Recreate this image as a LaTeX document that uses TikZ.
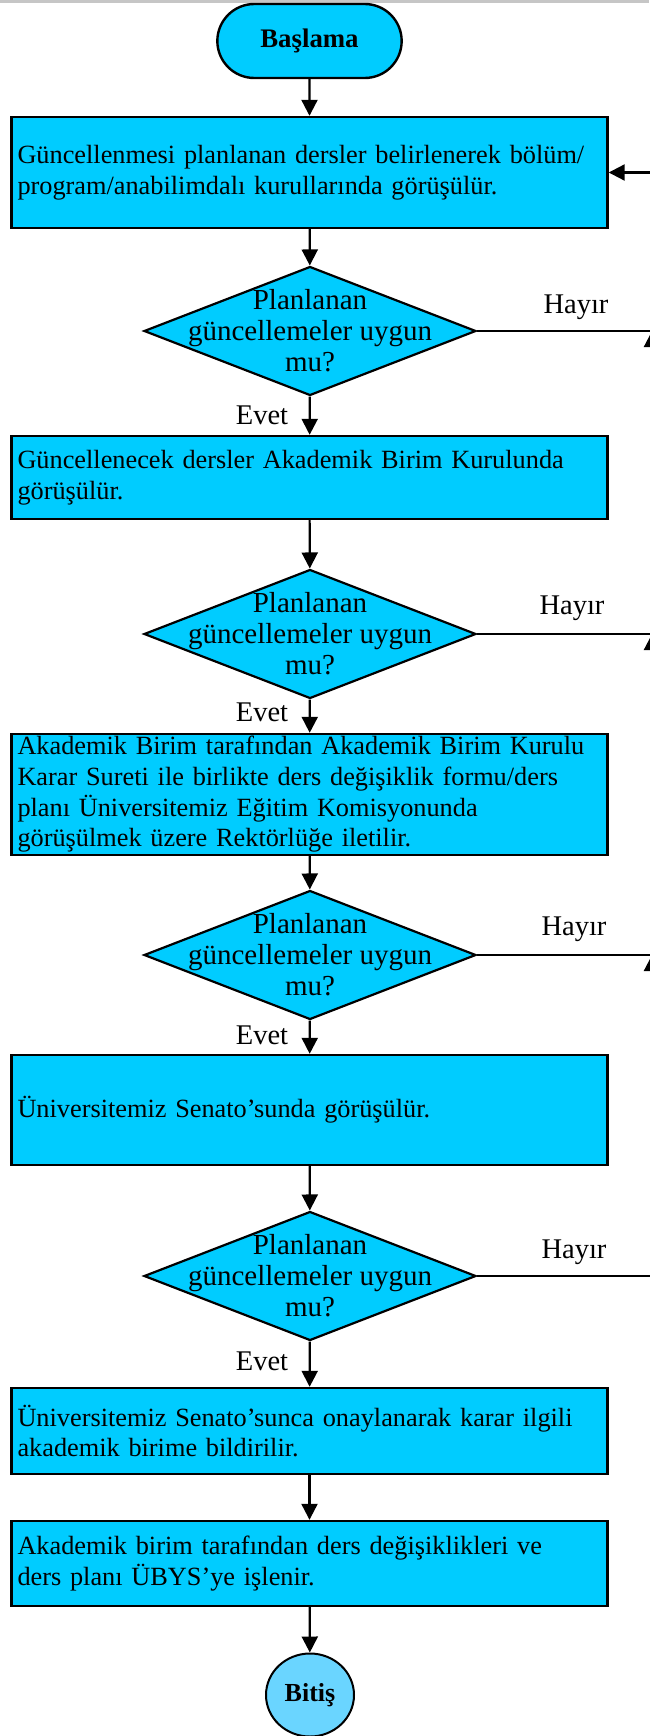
\documentclass[tikz,border=0pt]{standalone}
\usepackage{fontspec}
\setmainfont{Liberation Serif}
\usetikzlibrary{shapes.geometric,shapes.misc,arrows.meta}
\definecolor{boxfill}{HTML}{00CCFF}
\definecolor{endfill}{HTML}{6AD5FF}
\begin{document}
\begin{tikzpicture}[x=1pt,y=-1pt,
  procbox/.style={rectangle,draw=black,fill=boxfill,line width=2.4pt,
    minimum width=596pt,text width=584pt,inner xsep=6pt,inner ysep=0pt,align=left,
    font=\fontsize{26.3pt}{30.7pt}\selectfont},
  decbox/.style={diamond,draw=black,fill=boxfill,line width=2.2pt,
    minimum width=332pt,minimum height=129pt,inner sep=0pt},
  dectext/.style={align=center,font=\fontsize{29pt}{31pt}\selectfont,inner sep=0pt},
  lbl/.style={font=\fontsize{28.5pt}{30pt}\selectfont,inner sep=0pt},
  conn/.style={line width=2.2pt,-{Triangle[length=16pt,width=16pt]}},
  plain/.style={line width=2.2pt}
]
\useasboundingbox (0,0) rectangle (649,1736);
\fill[gray!45] (0,0) rectangle (649,3);

\node[rounded rectangle,draw=black,fill=boxfill,line width=2.4pt,minimum width=191pt,minimum height=74pt,
  font=\fontsize{26.8pt}{28pt}\selectfont\bfseries] (start) at (309.5,41) {Başlama};

\node[procbox,minimum height=111pt] (b1) at (309.5,172.5)
  {Güncellenmesi planlanan dersler belirlenerek bölüm/\\program/anabilimdalı kurullarında görüşülür.};
\node[decbox] (d1) at (310,331) {};
\node[dectext] (t1) at (d1.center) {Planlanan\\güncellemeler uygun\\mu?};

\node[procbox,minimum height=83pt] (b2) at (309.5,477.5)
  {Güncellenecek dersler Akademik Birim Kurulunda\\görüşülür.};
\node[decbox] (d2) at (310,634) {};
\node[dectext] (t2) at (d2.center) {Planlanan\\güncellemeler uygun\\mu?};

\node[procbox,minimum height=121pt] (b3) at (309.5,794.5)
  {Akademik Birim tarafından Akademik Birim Kurulu\\Karar Sureti ile birlikte ders değişiklik formu/ders\\planı Üniversitemiz Eğitim Komisyonunda\\görüşülmek üzere Rektörlüğe iletilir.};
\node[decbox] (d3) at (310,955) {};
\node[dectext] (t3) at (d3.center) {Planlanan\\güncellemeler uygun\\mu?};

\node[procbox,minimum height=110pt] (b4) at (309.5,1110)
  {Üniversitemiz Senato’sunda görüşülür.};
\node[decbox] (d4) at (310,1276) {};
\node[dectext] (t4) at (d4.center) {Planlanan\\güncellemeler uygun\\mu?};

\node[procbox,minimum height=86pt] (b5) at (309.5,1431)
  {Üniversitemiz Senato’sunca onaylanarak karar ilgili\\akademik birime bildirilir.};
\node[procbox,minimum height=85pt] (b6) at (309.5,1563.5)
  {Akademik birim tarafından ders değişiklikleri ve\\ders planı ÜBYS’ye işlenir.};

\node[ellipse,draw=black,fill=endfill,line width=2pt,minimum width=88pt,minimum height=83pt,inner sep=0pt,
  font=\fontsize{26pt}{28pt}\selectfont\bfseries] (end) at (310,1695) {Bitiş};

% main flow
\draw[conn] (start) -- (b1);
\draw[conn] (b1) -- (d1);
\draw[conn] (d1) -- (b2);
\draw[conn] (b2) -- (d2);
\draw[conn] (d2) -- (b3);
\draw[conn] (b3) -- (d3);
\draw[conn] (d3) -- (b4);
\draw[conn] (b4) -- (d4);
\draw[conn] (d4) -- (b5);
\draw[conn] (b5) -- (b6);
\draw[conn] (b6) -- (end);

% Evet labels
\node[lbl] (e1) at (262,415) {Evet};
\node[lbl] (e2) at (262,712) {Evet};
\node[lbl] (e3) at (262,1035) {Evet};
\node[lbl] (e4) at (262,1361) {Evet};

% Hayir branches
\coordinate (r1) at (652,331);
\coordinate (r2) at (652,634);
\coordinate (r3) at (652,955);
\coordinate (r4) at (652,1276);
\coordinate (r0) at (652,172.5);
\draw[plain] (d1.east) -- (r1);
\draw[plain] (d2.east) -- (r2);
\draw[plain] (d3.east) -- (r3);
\draw[plain] (d4.east) -- (r4);
\draw[conn] (r4) -- (r3);
\draw[conn] (r3) -- (r2);
\draw[conn] (r2) -- (r1);
\draw[conn] (r1) -- (r0) -- (b1.east);

\node[lbl] (h1) at (576,307) {Hayır};
\node[lbl] (h2) at (572,608) {Hayır};
\node[lbl] (h3) at (574,929) {Hayır};
\node[lbl] (h4) at (574,1252) {Hayır};
\end{tikzpicture}
\end{document}
